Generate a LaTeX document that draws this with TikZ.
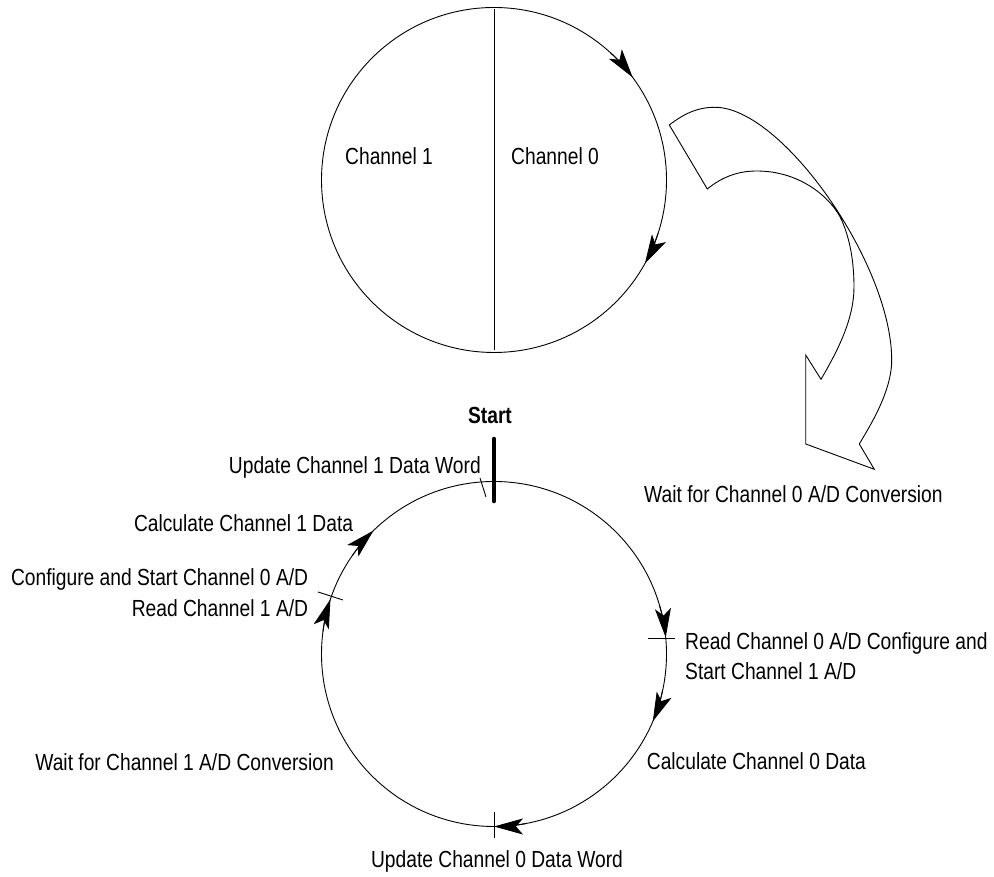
\documentclass[tikz,border=0pt]{standalone}
\usepackage{fontspec}
\setmainfont{Liberation Sans}[FakeStretch=0.825]
\usetikzlibrary{arrows.meta}
\begin{document}
\begin{tikzpicture}[x=1pt,y=1pt,
  lbl/.style={inner sep=0pt, font=\fontsize{23.3}{28}\selectfont},
  ring/.style={circle, draw, line width=0.9pt, minimum size=345pt, inner sep=0pt, outer sep=0pt},
  tipline/.style={line width=0.9pt, -{Stealth[length=29pt,width=16pt,inset=7pt]}},
  tickline/.style={line width=0.9pt},
  startbar/.style={line width=4.6pt, line cap=round},
  bigarrow/.style={line width=0.9pt, line join=miter}
]
\useasboundingbox (0,0) rectangle (994,877);

% upper circle
\node[ring] (top) at (494,697) {};
\draw[tickline] ([yshift=-2pt]top.north) -- ([yshift=2pt]top.south);
\draw[tipline] (top.center) ++(47.5:172.5) arc[start angle=47.5, end angle=36.5, radius=172.5];
\draw[tipline] (top.center) ++(-18:172.5) arc[start angle=-18, end angle=-29, radius=172.5];
\node[lbl, anchor=base west] (ch1) at (345,712) {Channel 1};
\node[lbl, anchor=base west] (ch0) at (511,712) {Channel 0};

% big curved arrow
\draw[bigarrow]
  (669.3,752) .. controls (685,764) and (698,769.7) .. (715,769.7)
  .. controls (782,769.7) and (891.7,613) .. (891.7,517)
  .. controls (891.7,485) and (869.3,450) .. (859.3,433)
  -- (874.3,407.7) -- (805.7,433) -- (805.7,522) -- (821,497.7)
  .. controls (840,530) and (854,560) .. (854,590)
  .. controls (854,615) and (850,640) .. (840,660.3)
  .. controls (828,682) and (798,706) .. (756.7,706)
  .. controls (738,706) and (722,700) .. (707.3,688)
  -- cycle;
\node[lbl, anchor=base west] (wait0) at (644,374.3) {Wait for Channel 0 A/D Conversion};

% lower cycle
\node[ring] (cyc) at (494,223) {};
\draw[startbar] (494,438) -- (494,376);
\node[lbl, anchor=base] (start) at (490,453.7) {\bfseries Start};

\draw[tipline] (cyc.center) ++(16.5:172.5) arc[start angle=16.5, end angle=5.5, radius=172.5];
\draw[tipline] (cyc.center) ++(-12:172.5) arc[start angle=-12, end angle=-23, radius=172.5];
\draw[tipline] (cyc.center) ++(-79:172.5) arc[start angle=-79, end angle=-90, radius=172.5];
\draw[tipline] (cyc.center) ++(172.5:172.5) arc[start angle=172.5, end angle=161.5, radius=172.5];
\draw[tipline] (cyc.center) ++(145.3:172.5) arc[start angle=145.3, end angle=134.3, radius=172.5];

% ticks
\draw[tickline] (480,399) -- (486,380);
\draw[tickline] (648,239) -- (675,239);
\draw[tickline] (318,285) -- (343,277);
\draw[tickline] (494,65) -- (494,39);

% labels of the cycle
\node[lbl, anchor=base east] (upd1) at (481,403.7) {Update Channel 1 Data Word};
\node[lbl, anchor=base east] (calc1) at (353.3,345.3) {Calculate Channel 1 Data};
\node[lbl, anchor=base east] (cfg0) at (308.3,291.3) {Configure and Start Channel 0 A/D};
\node[lbl, anchor=base east] (rd1) at (308.3,260.3) {Read Channel 1 A/D};
\node[lbl, anchor=base east] (wait1) at (334,106.3) {Wait for Channel 1 A/D Conversion};
\node[lbl, anchor=base] (upd0) at (497,9.7) {Update Channel 0 Data Word};
\node[lbl, anchor=base west] (calc0) at (646.7,107) {Calculate Channel 0 Data};
\node[lbl, anchor=base west] (rd0) at (685,227) {Read Channel 0 A/D Configure and};
\node[lbl, anchor=base west] (st1) at (685,197) {Start Channel 1 A/D};
\end{tikzpicture}
\end{document}
